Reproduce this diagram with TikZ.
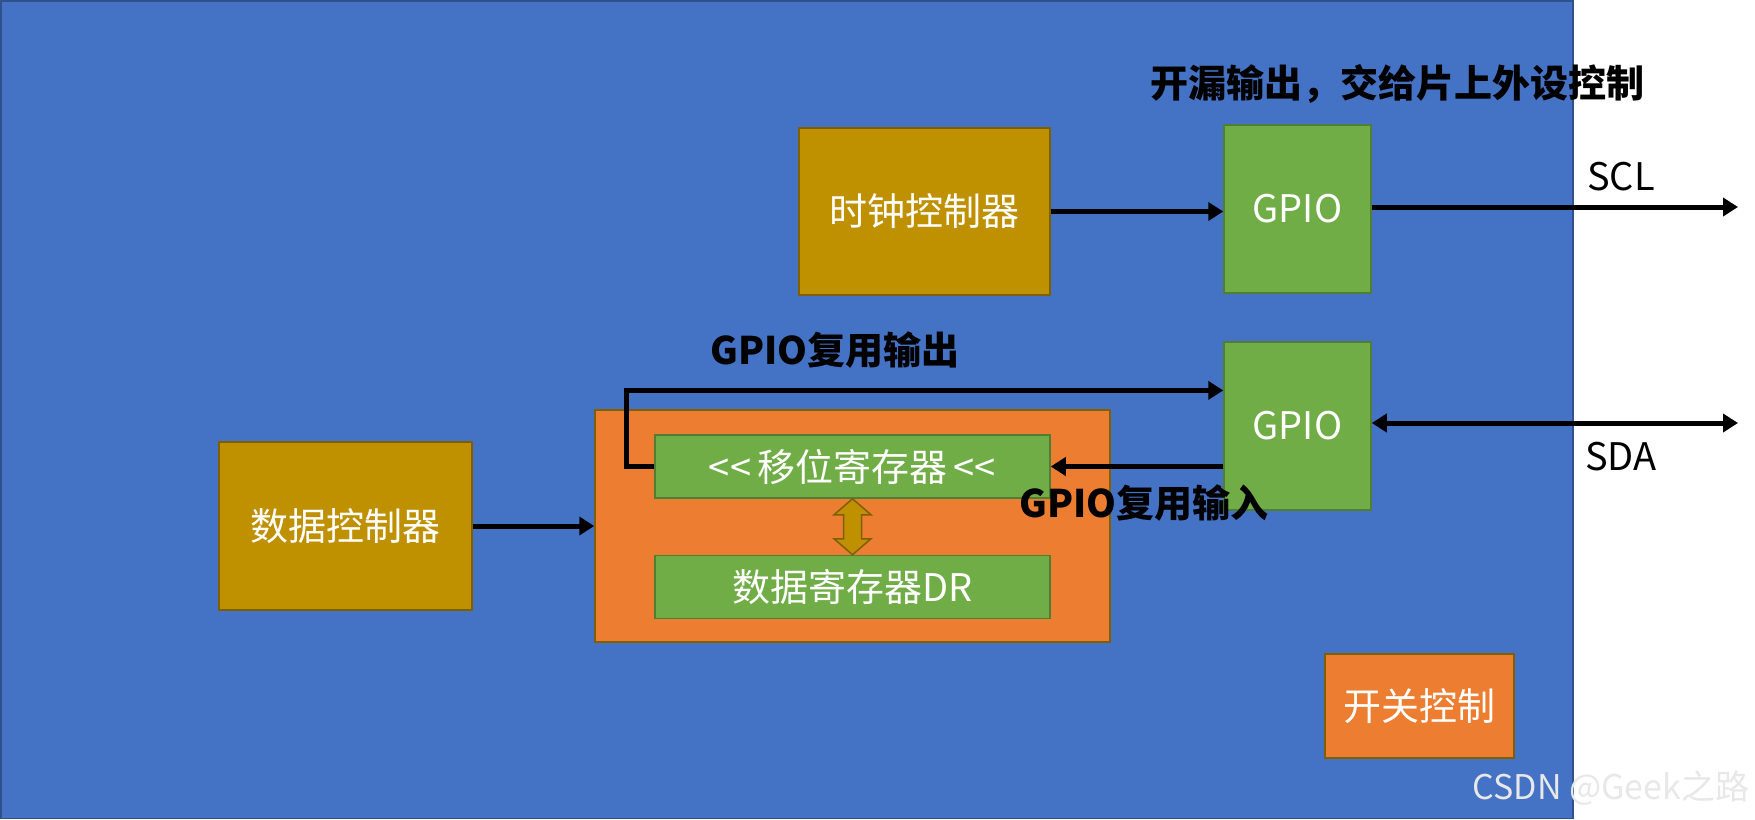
\documentclass[tikz,border=0pt]{standalone}
\usepackage{fontspec}
\setmainfont{Noto Sans CJK SC}
\usetikzlibrary{positioning,arrows.meta,calc}
\definecolor{bgblue}{HTML}{4472C4}
\definecolor{bgedge}{HTML}{2F528F}
\definecolor{gold}{HTML}{BF9000}
\definecolor{golddark}{HTML}{7F6000}
\definecolor{leaf}{HTML}{70AD47}
\definecolor{leafdark}{HTML}{507E32}
\definecolor{tangerine}{HTML}{ED7D31}
\newcommand{\boxfont}{\fontsize{38}{46}\selectfont}

\begin{document}
\begin{tikzpicture}[
  x=1pt, y=-1pt,
  ctrl/.style={rectangle, draw=golddark, fill=gold, text=white, font=\boxfont, line width=1.5pt, inner sep=0pt, align=center},
  gpio/.style={rectangle, draw=leafdark, fill=leaf, text=white, font=\boxfont, line width=1.5pt, inner sep=0pt, minimum width=147pt, minimum height=168pt},
  regbox/.style={rectangle, draw=leafdark, fill=leaf, text=white, font=\boxfont, line width=1.5pt, inner sep=0pt, minimum width=395pt, minimum height=63pt},
  unit/.style={rectangle, draw=golddark, fill=tangerine, text=white, font=\boxfont, line width=1.5pt, inner sep=0pt},
  tag/.style={font=\boxfont\bfseries, text=black, inner sep=0pt},
  sig/.style={font=\boxfont, text=black, inner sep=0pt},
  arrow/.style={line width=5pt, draw=black, -{Triangle[length=15pt,width=18pt]}},
  dblarrow/.style={line width=5pt, draw=black, {Triangle[length=15pt,width=18pt]}-{Triangle[length=15pt,width=18pt]}},
]
  \useasboundingbox (0,0) rectangle (1755,819);
  \fill[white] (0,0) rectangle (1755,819);
  \filldraw[fill=bgblue, draw=bgedge, line width=1.5pt] (0.75,0.75) rectangle (1573,818.25);

  \node[ctrl, minimum width=251pt, minimum height=167pt] (clk) at (924.5,211.5) {时钟控制器};
  \node[gpio] (gpioA) at (1297.5,209) {GPIO};
  \node[gpio] (gpioB) at (1297.5,426) {GPIO};
  \node[unit, minimum width=515pt, minimum height=232pt] (reg) at (852.5,526) {};
  \node[regbox, below=25pt of reg.north] (shift) {<{}<\,移位寄存器\,<{}<};
  \node[regbox, below=56pt of shift] (dr) {数据寄存器DR};
  \node[ctrl, minimum width=253pt, minimum height=168pt] (data) at (345.5,526) {数据控制器};
  \node[unit, minimum width=189pt, minimum height=104pt] (sw) at (1419.5,706) {开关控制};

  \node[tag] (odlbl) at (1397,84) {开漏输出，交给片上外设控制};
  \node[tag] (outlbl) at (835,350) {GPIO复用输出};
  \node[tag] (inlbl) at (1144,503) {GPIO复用输入};
  \node[sig] (scl) at (1621,177) {SCL};
  \node[sig] (sda) at (1621,457) {SDA};
  \node[font=\fontsize{34}{40}\selectfont, text=white!82!gray, inner sep=0pt] (mark) at (1611,788) {CSDN @Geek之路};

  \coordinate (sclend) at (1738,207);
  \coordinate (sdaend) at (1738,423);

  \draw[arrow] (clk.east) -- (clk.east -| gpioA.west);
  \draw[arrow] (gpioA.east |- sclend) -- (sclend);
  \draw[dblarrow] (gpioB.east |- sdaend) -- (sdaend);
  \draw[arrow] (shift.west) -- ++(-28,0) |- ($(gpioB.north west)!0.29!(gpioB.south west)$);
  \draw[arrow] (shift.east -| gpioB.west) -- (shift.east);
  \draw[arrow] (data.east) -- (reg.west);
  \filldraw[fill=gold, draw=golddark, line width=1.5pt]
    (shift.south) -- ++(18.5,16) -- ++(-9.5,0) -- ($(dr.north)+(9,-16)$) -- ++(9.5,0)
    -- (dr.north) -- ++(-18.5,-16) -- ++(9.5,0) -- ($(shift.south)+(-9,16)$) -- ++(-9.5,0) -- cycle;
\end{tikzpicture}
\end{document}
